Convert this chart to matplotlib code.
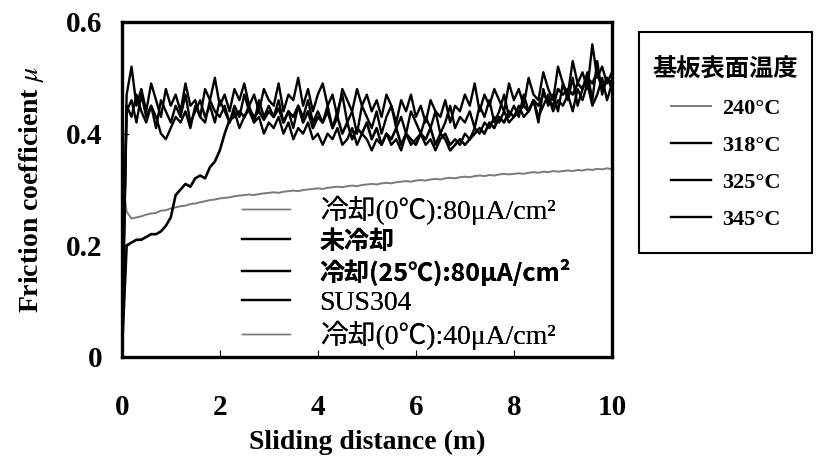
import numpy as np
import matplotlib
matplotlib.use("Agg")
import matplotlib.pyplot as plt
from matplotlib.lines import Line2D
from matplotlib.patches import Rectangle
from matplotlib.ticker import FixedLocator, FixedFormatter

plt.rcParams['font.family'] = ['Liberation Serif', 'Noto Sans CJK JP']
plt.rcParams['mathtext.fontset'] = 'stix'

# sliding distance grid (m)
distance = np.linspace(0, 10, 101)

# gray curve (240°C)
mu_240 = [0.330,
          0.260, 0.248, 0.250, 0.252, 0.255, 0.257, 0.258, 0.262, 0.263, 0.266,
          0.268, 0.270, 0.271, 0.274, 0.275, 0.277, 0.279, 0.281, 0.282, 0.284,
          0.285, 0.286, 0.288, 0.289, 0.290, 0.291, 0.290, 0.292, 0.293, 0.294,
          0.295, 0.294, 0.296, 0.297, 0.298, 0.297, 0.299, 0.300, 0.301, 0.302,
          0.301, 0.303, 0.304, 0.305, 0.304, 0.306, 0.307, 0.306, 0.308, 0.309,
          0.310, 0.309, 0.311, 0.312, 0.311, 0.313, 0.314, 0.315, 0.314, 0.316,
          0.317, 0.316, 0.318, 0.319, 0.318, 0.320, 0.321, 0.320, 0.322, 0.323,
          0.322, 0.324, 0.325, 0.324, 0.326, 0.325, 0.327, 0.328, 0.327, 0.328,
          0.329, 0.328, 0.330, 0.331, 0.330, 0.332, 0.331, 0.333, 0.332, 0.333,
          0.334, 0.333, 0.335, 0.334, 0.336, 0.335, 0.337, 0.336, 0.338, 0.336]

# black curves
mu_318 = [0.00,
          0.47, 0.52, 0.45, 0.48, 0.44, 0.49, 0.46, 0.43, 0.48, 0.45,
          0.47, 0.44, 0.49, 0.45, 0.46, 0.43, 0.48, 0.46, 0.50, 0.45,
          0.47, 0.44, 0.48, 0.46, 0.49, 0.45, 0.47, 0.44, 0.48, 0.46,
          0.45, 0.49, 0.44, 0.47, 0.46, 0.50, 0.45, 0.48, 0.44, 0.47,
          0.49, 0.45, 0.47, 0.43, 0.48, 0.46, 0.44, 0.48, 0.45, 0.47,
          0.44, 0.46, 0.43, 0.47, 0.45, 0.42, 0.46, 0.44, 0.47, 0.43,
          0.45, 0.42, 0.46, 0.44, 0.43, 0.46, 0.42, 0.45, 0.44, 0.47,
          0.45, 0.49, 0.44, 0.47, 0.45, 0.48, 0.46, 0.44, 0.49, 0.46,
          0.48, 0.45, 0.50, 0.47, 0.46, 0.51, 0.48, 0.46, 0.52, 0.49,
          0.47, 0.53, 0.49, 0.51, 0.48, 0.56, 0.50, 0.52, 0.49, 0.51]

mu_325 = [0.00,
          0.44, 0.46, 0.42, 0.47, 0.43, 0.45, 0.41, 0.46, 0.44, 0.42,
          0.45, 0.43, 0.47, 0.42, 0.44, 0.46, 0.43, 0.45, 0.42, 0.46,
          0.44, 0.42, 0.45, 0.43, 0.47, 0.44, 0.42, 0.46, 0.43, 0.45,
          0.43, 0.46, 0.42, 0.44, 0.41, 0.45, 0.43, 0.46, 0.42, 0.44,
          0.42, 0.45, 0.41, 0.44, 0.47, 0.42, 0.44, 0.40, 0.45, 0.43,
          0.41, 0.44, 0.40, 0.43, 0.45, 0.41, 0.43, 0.40, 0.44, 0.42,
          0.40, 0.43, 0.41, 0.44, 0.40, 0.42, 0.45, 0.41, 0.43, 0.42,
          0.44, 0.41, 0.45, 0.43, 0.46, 0.42, 0.44, 0.47, 0.43, 0.45,
          0.43, 0.47, 0.44, 0.46, 0.42, 0.48, 0.45, 0.47, 0.44, 0.49,
          0.46, 0.50, 0.45, 0.48, 0.51, 0.46, 0.53, 0.47, 0.50, 0.48]

mu_345 = [0.00,
          0.45, 0.43, 0.47, 0.44, 0.42, 0.45, 0.43, 0.40, 0.39, 0.41,
          0.43, 0.42, 0.44, 0.41, 0.45, 0.43, 0.42, 0.46, 0.44, 0.43,
          0.45, 0.42, 0.44, 0.41, 0.43, 0.45, 0.42, 0.43, 0.40, 0.42,
          0.41, 0.43, 0.40, 0.42, 0.39, 0.41, 0.40, 0.42, 0.39, 0.40,
          0.38, 0.40, 0.39, 0.41, 0.38, 0.39, 0.41, 0.38, 0.40, 0.39,
          0.37, 0.39, 0.38, 0.40, 0.38, 0.39, 0.37, 0.40, 0.38, 0.39,
          0.40, 0.38, 0.39, 0.37, 0.39, 0.40, 0.38, 0.39, 0.38, 0.40,
          0.39, 0.41, 0.40, 0.42, 0.41, 0.43, 0.42, 0.44, 0.42, 0.43,
          0.45, 0.43, 0.44, 0.46, 0.43, 0.45, 0.47, 0.44, 0.46, 0.45,
          0.47, 0.44, 0.48, 0.46, 0.49, 0.45, 0.47, 0.50, 0.46, 0.49]

# curve that climbs from 0.2 over the first ~2 m
mu_rise = [0.00,
           0.200, 0.205, 0.210, 0.210, 0.215, 0.220, 0.220, 0.225, 0.235, 0.250,
           0.290, 0.300, 0.310, 0.305, 0.320, 0.325, 0.320, 0.340, 0.350, 0.370,
           0.400, 0.425, 0.430, 0.440, 0.430, 0.445, 0.430, 0.440, 0.425, 0.440,
           0.430, 0.445, 0.420, 0.440, 0.430, 0.450, 0.420, 0.440, 0.410, 0.430,
           0.420, 0.440, 0.410, 0.430, 0.400, 0.420, 0.390, 0.410, 0.400, 0.420,
           0.390, 0.410, 0.380, 0.400, 0.390, 0.410, 0.380, 0.400, 0.390, 0.380,
           0.400, 0.390, 0.410, 0.380, 0.400, 0.390, 0.370, 0.380, 0.390, 0.380,
           0.390, 0.400, 0.410, 0.400, 0.420, 0.410, 0.430, 0.420, 0.440, 0.430,
           0.440, 0.450, 0.440, 0.460, 0.450, 0.470, 0.460, 0.450, 0.480, 0.470,
           0.480, 0.470, 0.490, 0.480, 0.500, 0.490, 0.510, 0.480, 0.500, 0.490]

temp_labels = ['240°C', '318°C', '325°C', '345°C']
cond_labels = ['冷却(0℃):80μA/cm²', '未冷却', '冷却(25℃):80μA/cm²',
               'SUS304', '冷却(0℃):40μA/cm²']
cond_gray = [True, False, False, False, True]

xticks = [0, 2, 4, 6, 8, 10]
yticks = [0, 0.2, 0.4, 0.6]
ytick_labels = ['0', '0.2', '0.4', '0.6']

GRAY = '#7a7a7a'
W, H = 817, 461

fig = plt.figure(figsize=(W / 100, H / 100), dpi=100)
ax = fig.add_axes([0.149, 0.2256, 0.6, 0.7267])

l240, = ax.plot(distance, mu_240, color=GRAY, lw=1.4, label=temp_labels[0])
ax.plot(distance, mu_rise, color='black', lw=1.9)
l318, = ax.plot(distance, mu_318, color='black', lw=1.7, label=temp_labels[1])
l325, = ax.plot(distance, mu_325, color='black', lw=1.7, label=temp_labels[2])
l345, = ax.plot(distance, mu_345, color='black', lw=1.7, label=temp_labels[3])

ax.set_xlim(0, 10)
ax.set_ylim(0, 0.6)
for s in ax.spines.values():
    s.set_linewidth(2.4)

ax.xaxis.set_major_locator(FixedLocator(xticks))
ax.yaxis.set_major_locator(FixedLocator(yticks))
ax.yaxis.set_major_formatter(FixedFormatter(ytick_labels))
ax.tick_params(axis='both', direction='in', length=5, width=0.8)
ax.tick_params(axis='x', pad=27)
ax.tick_params(axis='y', pad=14)
for t in ax.get_xticklabels() + ax.get_yticklabels():
    t.set_fontsize(21)
    t.set_fontweight('bold')

ax.set_xlabel('Sliding distance (m)', fontsize=20, fontweight='bold', labelpad=6)
ax.set_ylabel(r'Friction coefficient $\mu$', fontsize=20, fontweight='bold', labelpad=14)

# inner legend (conditions)
handles = [Line2D([], [], color=GRAY if g else 'black', lw=1.0 if g else 1.6)
           for g in cond_gray]
leg_in = ax.legend(handles, cond_labels, loc='upper left',
                   bbox_to_anchor=(0.245, 0.482), frameon=False,
                   fontsize=20, handlelength=1.75, handletextpad=1.05,
                   labelspacing=0.17, borderpad=0, borderaxespad=0)
for i, t in enumerate(leg_in.get_texts()):
    if i in (1, 2):
        t.set_family(['Noto Sans CJK JP'])
        t.set_fontweight('bold')
        t.set_fontsize(18)
ax.add_artist(leg_in)

# outer legend (substrate surface temperature), framed box drawn in pixels
box = Rectangle((639 / W, 1 - 253 / H), 173 / W, 221 / H, transform=fig.transFigure,
                fill=False, edgecolor='black', linewidth=1.5)
fig.patches.append(box)
leg_out = fig.legend([l240, l318, l325, l345], temp_labels,
                     title='基板表面温度', loc='upper center',
                     bbox_to_anchor=((639 + 812) / 2 / W, 1 - 58 / H), borderaxespad=0,
                     frameon=False,
                     prop={'family': 'Liberation Serif', 'weight': 'bold', 'size': 16},
                     handlelength=1.8, handletextpad=0.5, labelspacing=0.74,
                     borderpad=0, alignment='center')
leg_out.get_title().set_family(['Noto Sans CJK JP'])
leg_out.get_title().set_fontweight('bold')
leg_out.get_title().set_fontsize(17.5)

fig.savefig('out.png', dpi=100)
